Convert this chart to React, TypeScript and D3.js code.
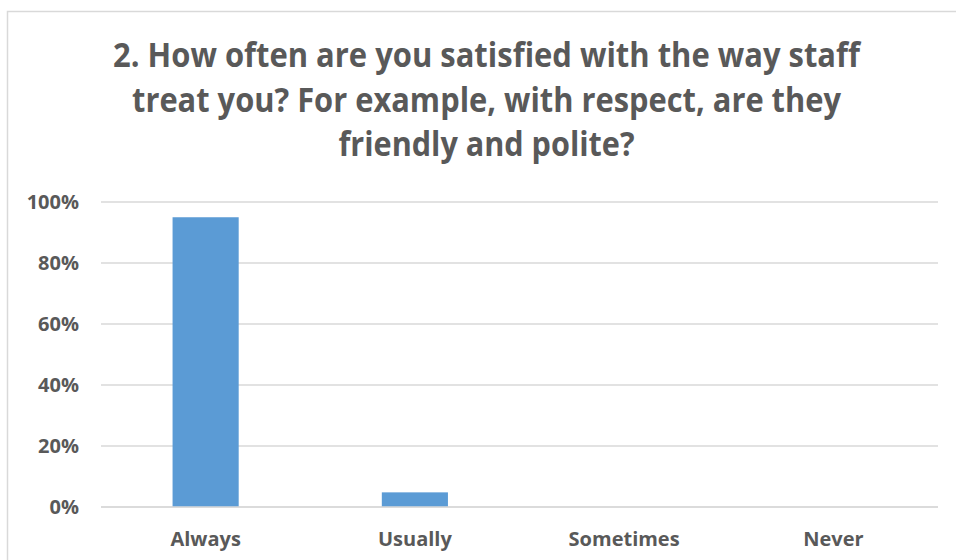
import { useEffect } from 'react'
import { scaleBand, scaleLinear } from 'd3'

const titleLines = [
  '2. How often are you satisfied with the way staff',
  'treat you? For example, with respect, are they',
  'friendly and polite?',
]
const titleWidths = [747, 709, 296]
const categories = ['Always', 'Usually', 'Sometimes', 'Never']
const values = [0.95, 0.048, 0, 0]
const yTicks = [0, 0.2, 0.4, 0.6, 0.8, 1]

const textColor = '#595959'
const gridColor = '#d9d9d9'
const barColor = '#5b9bd5'
const font = '"Open Sans", Lato, sans-serif'

export default function App() {
  useEffect(() => {
    document.body.style.margin = '0'
  }, [])

  const width = 956
  const height = 560
  const plot = { left: 101, right: 938, top: 202, bottom: 507 }

  const x = scaleBand<string>()
    .domain(categories)
    .range([plot.left, plot.right])
    .paddingInner(0.684)
    .paddingOuter(0.342)
  const y = scaleLinear().domain([0, 1]).range([plot.bottom, plot.top])

  const titleCenter = 486.5
  const titleBaselines = [67, 111.5, 156]

  return (
    <svg width={width} height={height} style={{ display: 'block', background: '#fff' }}>
      <rect x={7.5} y={11.5} width={960} height={560} fill="#fff" stroke={gridColor} strokeWidth={1.5} />
      {titleLines.map((line, i) => (
        <text
          key={line}
          x={titleCenter}
          y={titleBaselines[i]}
          textAnchor="middle"
          fontFamily={font}
          fontWeight={700}
          fontSize={33.5}
          fill={textColor}
          textLength={titleWidths[i]}
          lengthAdjust="spacingAndGlyphs"
        >
          {line}
        </text>
      ))}
      {yTicks.map((t) => (
        <g key={t}>
          <line x1={plot.left} x2={plot.right} y1={y(t)} y2={y(t)} stroke={gridColor} strokeWidth={1.5} />
          <text
            x={79}
            y={y(t)}
            dy="0.36em"
            textAnchor="end"
            fontFamily={font}
            fontWeight={700}
            fontSize={20}
            fill={textColor}
          >
            {`${Math.round(t * 100)}%`}
          </text>
        </g>
      ))}
      {categories.map((c, i) => (
        <rect
          key={c}
          x={x(c)}
          y={y(values[i])}
          width={x.bandwidth()}
          height={y(0) - y(values[i])}
          fill={barColor}
        />
      ))}
      <line x1={plot.left} x2={plot.right} y1={y(0)} y2={y(0)} stroke={gridColor} strokeWidth={1.5} />
      {categories.map((c) => (
        <text
          key={c}
          x={(x(c) ?? 0) + x.bandwidth() / 2}
          y={546}
          textAnchor="middle"
          fontFamily={font}
          fontWeight={700}
          fontSize={20}
          fill={textColor}
        >
          {c}
        </text>
      ))}
    </svg>
  )
}
